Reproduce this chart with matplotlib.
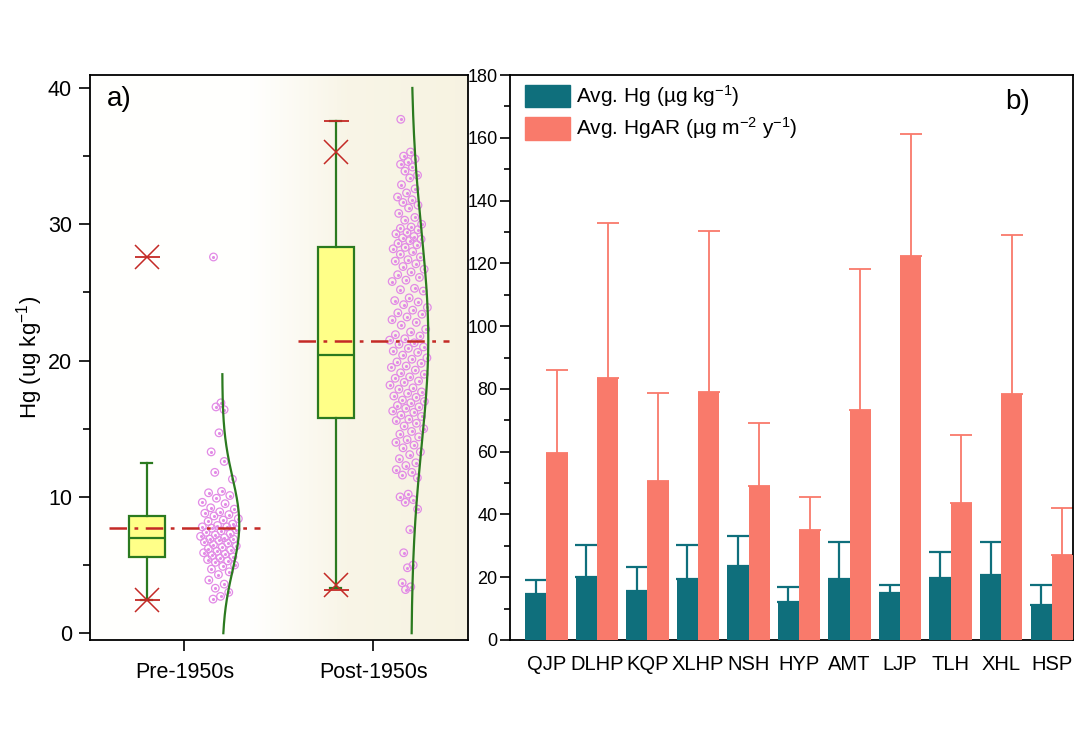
import matplotlib.pyplot as plt
import matplotlib.patches as mpatches
import numpy as np

plt.rcParams['font.family'] = ['Liberation Sans', 'DejaVu Sans']
plt.rcParams['mathtext.default'] = 'regular'

# ---- panel a) data ----
groups = ['Pre-1950s', 'Post-1950s']

pre_points = [27.6, 16.9, 16.6, 16.4, 14.7, 13.3, 12.6, 11.8, 11.3,
              10.4, 10.3, 10.1, 9.9, 9.6, 9.5, 9.2, 9.1, 8.9, 8.8,
              8.7, 8.6, 8.4, 8.3, 8.2, 8.0, 7.9, 7.8, 7.8, 7.7, 7.6,
              7.5, 7.4, 7.3, 7.2, 7.1, 7.0, 6.9, 6.9, 6.8, 6.7, 6.6,
              6.5, 6.4, 6.3, 6.2, 6.1, 6.0, 5.9, 5.8, 5.7, 5.6, 5.5,
              5.4, 5.3, 5.2, 5.0, 4.9, 4.7, 4.5, 4.3, 3.9, 3.6, 3.3,
              3.0, 2.7, 2.5]

post_points = [37.7, 35.3, 35.0, 34.8, 34.6, 34.4, 34.2, 33.9, 33.6, 33.4,
               32.9, 32.6, 32.3, 32.0, 31.8, 31.6, 31.4, 31.2, 30.8, 30.5,
               30.3, 30.0, 29.8, 29.7, 29.6, 29.4, 29.3, 29.1, 29.0, 28.9,
               28.8, 28.6, 28.5, 28.3, 28.2, 28.0, 27.8, 27.6, 27.4, 27.3,
               27.1, 26.9, 26.7, 26.5, 26.3, 26.1, 25.9, 25.8, 25.3, 25.2,
               25.1, 24.6, 24.4, 24.3, 24.1, 23.9, 23.7, 23.5, 23.4, 23.2,
               23.0, 22.8, 22.6, 22.3, 22.1, 21.9, 21.8, 21.6, 21.5, 21.3,
               21.2, 21.0, 20.9, 20.7, 20.6, 20.4, 20.2, 20.1, 19.9, 19.8,
               19.6, 19.5, 19.3, 19.1, 19.0, 18.8, 18.7, 18.5, 18.4, 18.2,
               18.0, 17.9, 17.7, 17.6, 17.4, 17.3, 17.1, 17.0, 16.9, 16.7,
               16.6, 16.5, 16.3, 16.2, 16.0, 15.9, 15.7, 15.6, 15.4, 15.2,
               15.0, 14.8, 14.6, 14.4, 14.2, 14.0, 13.8, 13.6, 13.3, 13.1,
               12.8, 12.5, 12.3, 12.0, 11.8, 11.6, 11.4, 10.2, 10.0, 9.8,
               9.6, 9.1, 7.6, 5.9, 5.0, 4.8, 3.7, 3.4, 3.2]

box_q1 = [5.6, 15.8]
box_med = [7.0, 20.4]
box_q3 = [8.6, 28.3]
whisk_lo = [2.4, 3.3]
whisk_hi = [12.5, 37.6]
pct_1 = [2.4, 3.5]
pct_99 = [27.6, 35.3]
data_min = [2.4, 3.2]
data_max = [27.6, 37.6]
means = [7.7, 21.4]

# ---- panel b) data ----
sites = ['QJP', 'DLHP', 'KQP', 'XLHP', 'NSH', 'HYP', 'AMT', 'LJP', 'TLH', 'XHL', 'HSP']
hg_mean = [14.7, 20.0, 15.5, 19.5, 23.5, 12.0, 19.3, 15.0, 19.6, 20.8, 11.2]
hg_upper = [19.0, 30.2, 23.3, 30.4, 33.0, 17.0, 31.2, 17.5, 28.0, 31.2, 17.4]
hgar_mean = [59.5, 83.5, 50.5, 79.0, 49.2, 35.0, 73.2, 122.5, 43.8, 78.5, 27.0]
hgar_upper = [86.0, 132.8, 78.8, 130.3, 69.0, 45.6, 118.3, 161.3, 65.3, 129.0, 42.0]

green = '#2b7a1f'
red = '#c42a26'
violet = '#e28be6'
teal = '#0f6f7c'
salmon = '#f97a6b'

fig = plt.figure(figsize=(10.8, 7.54), dpi=100)
ax1 = fig.add_axes([0.0833, 0.1512, 0.35, 0.7493])
ax2 = fig.add_axes([0.4722, 0.1512, 0.5213, 0.7493])

# ---------- panel a ----------
ax1.set_xlim(0.5, 2.5)
ax1.set_ylim(-0.5, 40.95)

# background gradient (white -> light beige)
grad_x = np.linspace(0.5, 2.5, 400)
t = np.clip((grad_x - 1.35) / 0.5, 0, 1)
t = t * 0.8 + np.clip((grad_x - 1.8) / 0.7, 0, 1) * 0.2
white = np.array([1.0, 1.0, 0.995])
beige = np.array([0.968, 0.952, 0.885])
img = white[None, :] * (1 - t[:, None]) + beige[None, :] * t[:, None]
ax1.imshow(img[None, :, :], extent=[0.5, 2.5, -0.5, 40.95], aspect='auto',
           zorder=0, interpolation='bilinear')

stats = []
for i in range(2):
    stats.append({'q1': box_q1[i], 'med': box_med[i], 'q3': box_q3[i],
                  'whislo': whisk_lo[i], 'whishi': whisk_hi[i], 'fliers': []})
box_pos = [0.8, 1.8]
ax1.bxp(stats, positions=box_pos, widths=0.19, patch_artist=True,
        showfliers=False,
        boxprops=dict(facecolor='#ffff88', edgecolor=green, linewidth=1.6),
        medianprops=dict(color=green, linewidth=1.6),
        whiskerprops=dict(color=green, linewidth=1.6),
        capprops=dict(color=green, linewidth=1.6), capwidths=0.06,
        manage_ticks=False, zorder=3)

for i in range(2):
    ax1.plot([box_pos[i]] * 2, [pct_1[i], pct_99[i]], ls='none', marker='x',
             ms=17, mew=1.1, color=red, zorder=4)
    ax1.plot([box_pos[i]] * 2, [data_min[i], data_max[i]], ls='none', marker='_',
             ms=18, mew=1.3, color=red, zorder=4)
    c = i + 1
    ax1.plot([c - 0.4, c + 0.4], [means[i]] * 2, color=red, lw=1.8,
             dashes=(7, 3, 1.5, 3), zorder=5)

# jittered points and normal curves
curve_top = [19.0, 40.0]
for i, pts in enumerate([pre_points, post_points]):
    pts = np.array(pts)
    base = 1.2 + i
    mu, sd = pts.mean(), pts.std()
    if i == 0:
        sd = 3.4
    dens = np.exp(-0.5 * ((pts - mu) / sd) ** 2)
    frac = (np.arange(len(pts)) * 0.6180339887) % 1.0
    width = 0.105 * (0.3 + 0.7 * dens)
    xs = base - 0.015 + (frac - 0.5) * 2 * width
    ax1.scatter(xs, pts, s=30, facecolors='none', edgecolors=violet,
                linewidths=0.9, zorder=4)
    ax1.scatter(xs, pts, s=1.5, color=violet, zorder=4)
    yy = np.linspace(0, curve_top[i], 200)
    curve = np.exp(-0.5 * ((yy - mu) / sd) ** 2)
    ax1.plot(base + 0.09 * curve, yy, color=green, lw=1.6, zorder=5)

ax1.set_xticks([1, 2])
ax1.set_xticklabels(groups, fontsize=15.5)
ax1.set_yticks([0, 10, 20, 30, 40])
ax1.set_yticks([5, 15, 25, 35], minor=True)
ax1.tick_params(axis='both', which='major', direction='out', length=8, width=1.2,
                labelsize=15.5, pad=5)
ax1.tick_params(axis='x', pad=8)
ax1.tick_params(axis='y', which='minor', direction='out', length=5, width=1.2)
ax1.set_ylabel('Hg (ug kg$^{-1}$)', fontsize=16, labelpad=2)
for s in ax1.spines.values():
    s.set_linewidth(1.3)
ax1.text(0.045, 0.98, 'a)', transform=ax1.transAxes, fontsize=20,
         ha='left', va='top')

# ---------- panel b ----------
x = np.arange(len(sites))
bw = 0.42
hg_err = np.array(hg_upper) - np.array(hg_mean)
hgar_err = np.array(hgar_upper) - np.array(hgar_mean)
zeros = np.zeros(len(sites))

ax2.bar(x - bw / 2, hg_mean, bw, color=teal, zorder=3,
        yerr=[zeros, hg_err], ecolor=teal,
        error_kw=dict(capsize=8, elinewidth=1.6, capthick=1.6, zorder=2))
ax2.bar(x + bw / 2, hgar_mean, bw, color=salmon, zorder=3,
        yerr=[zeros, hgar_err], ecolor=salmon,
        error_kw=dict(capsize=8, elinewidth=1.3, capthick=1.3, zorder=2))

ax2.set_xlim(-0.72, 10.42)
ax2.set_ylim(0, 180)
ax2.set_xticks(x)
ax2.set_xticklabels(sites, fontsize=14.5)
ax2.set_yticks(np.arange(0, 181, 20))
ax2.set_yticks(np.arange(10, 180, 20), minor=True)
ax2.tick_params(axis='x', length=0, pad=11)
ax2.tick_params(axis='y', which='major', direction='out', length=7, width=1.2,
                labelsize=13, pad=2)
ax2.tick_params(axis='y', which='minor', direction='out', length=4, width=1.2)
for s in ax2.spines.values():
    s.set_linewidth(1.3)

handles = [mpatches.Patch(color=teal, label='Avg. Hg (µg kg$^{-1}$)'),
           mpatches.Patch(color=salmon, label='Avg. HgAR (µg m$^{-2}$ y$^{-1}$)')]
ax2.legend(handles=handles, loc='upper left', frameon=False, fontsize=15,
           handlelength=2.15, handleheight=1.3, handletextpad=0.3,
           labelspacing=0.3, bbox_to_anchor=(0.012, 1.0),
           borderaxespad=0.2, borderpad=0.2)
ax2.text(0.879, 0.975, 'b)', transform=ax2.transAxes, fontsize=20,
         ha='left', va='top')

fig.savefig('out.png', dpi=100)
